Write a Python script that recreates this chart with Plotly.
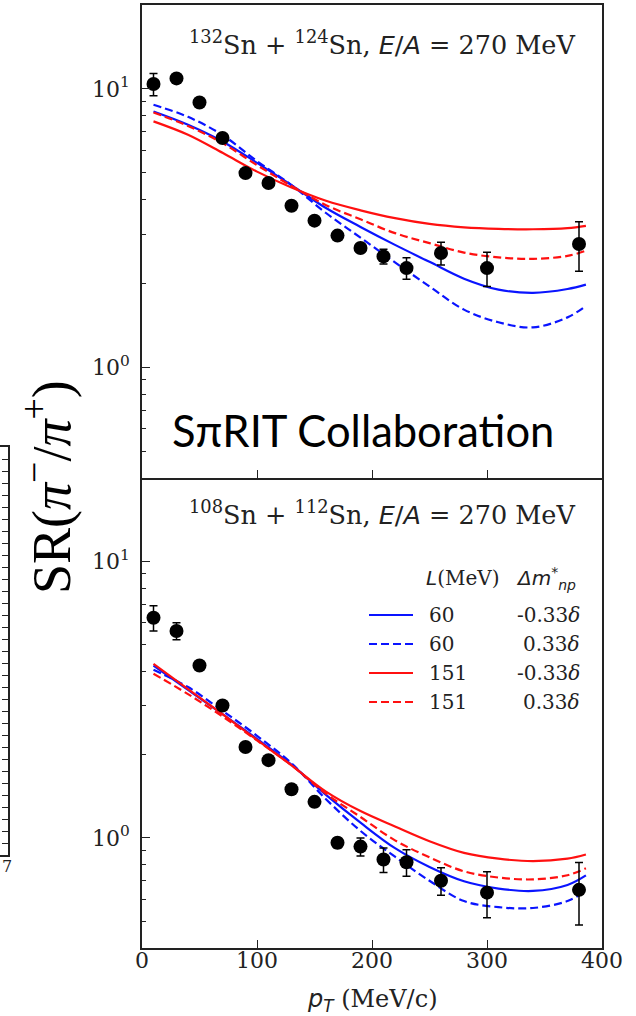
import plotly.graph_objects as go

W, H = 636, 1016

# ---------------- data ----------------
pt = [10, 30, 50, 70, 90, 110, 130, 150, 170, 190, 210, 230, 260, 300, 380]
sr_132 = [10.4, 10.9, 8.93, 6.66, 4.98, 4.59, 3.80, 3.36, 2.97, 2.68, 2.50, 2.27, 2.57, 2.27, 2.77]
err_132 = [0.95, 0.3, 0.25, 0.15, 0.1, 0.1, 0.08, 0.07, 0.07, 0.1, 0.15, 0.2, 0.24, 0.32, 0.56]
sr_108 = [6.25, 5.60, 4.20, 3.01, 2.13, 1.91, 1.50, 1.35, 0.96, 0.93, 0.835, 0.817, 0.70, 0.634, 0.649]
err_108 = [0.65, 0.4, 0.15, 0.1, 0.07, 0.06, 0.05, 0.05, 0.04, 0.07, 0.085, 0.09, 0.08, 0.12, 0.165]

model_pt = [10, 40, 70, 100, 130, 160, 190, 220, 250, 280, 310, 340, 370, 386]
# 132Sn + 124Sn
m132_L60_neg = [8.29, 7.43, 6.47, 5.42, 4.51, 3.73, 3.19, 2.75, 2.39, 2.08, 1.90, 1.85, 1.91, 1.98]
m132_L60_pos = [8.76, 7.93, 6.82, 5.50, 4.51, 3.58, 2.92, 2.38, 1.95, 1.61, 1.45, 1.39, 1.51, 1.66]
m132_L151_neg = [7.64, 6.84, 5.89, 5.04, 4.42, 3.96, 3.66, 3.43, 3.27, 3.18, 3.14, 3.13, 3.16, 3.22]
m132_L151_pos = [8.22, 7.35, 6.38, 5.32, 4.48, 3.82, 3.40, 3.03, 2.79, 2.58, 2.48, 2.45, 2.51, 2.62]
# 108Sn + 112Sn
m108_L60_neg = [4.20, 3.43, 2.80, 2.28, 1.84, 1.43, 1.135, 0.918, 0.785, 0.697, 0.656, 0.643, 0.676, 0.732]
m108_L60_pos = [4.05, 3.51, 2.88, 2.34, 1.86, 1.38, 1.06, 0.855, 0.70, 0.591, 0.562, 0.558, 0.591, 0.643]
m108_L151_neg = [4.26, 3.45, 2.80, 2.26, 1.83, 1.47, 1.25, 1.10, 0.973, 0.883, 0.841, 0.824, 0.841, 0.871]
m108_L151_pos = [3.92, 3.31, 2.75, 2.25, 1.83, 1.445, 1.19, 0.98, 0.851, 0.757, 0.719, 0.708, 0.733, 0.776]

legend_L = ["60", "60", "151", "151"]
legend_dm = ["-0.33<i>δ</i>", "0.33<i>δ</i>", "-0.33<i>δ</i>", "0.33<i>δ</i>"]
styles = [("#0a14ff", "solid"), ("#0a14ff", "8px,4px"), ("#ff1010", "solid"), ("#ff1010", "8px,4px")]

x_ticks = [0, 100, 200, 300, 400]
y_major = [1, 10]
y_major_text = ["10<sup>0</sup>", "10<sup>1</sup>"]
y_minor = [0.4, 0.5, 0.6, 0.7, 0.8, 0.9, 2, 3, 4, 5, 6, 7, 8, 9, 20]

SERIF = "DejaVu Serif"

def px(x):
    return x / W

def py(y):
    return 1 - y / H

fig = go.Figure()

panels = [
    ("x", "y", [m132_L60_neg, m132_L60_pos, m132_L151_neg, m132_L151_pos], sr_132, err_132),
    ("x2", "y2", [m108_L60_neg, m108_L60_pos, m108_L151_neg, m108_L151_pos], sr_108, err_108),
]
for xa, ya, curves, sr, err in panels:
    for c, (col, dash) in zip(curves, styles):
        fig.add_trace(go.Scatter(x=model_pt, y=c, mode="lines", xaxis=xa, yaxis=ya,
                                 line=dict(color=col, width=2.2, dash=dash, shape="spline", smoothing=1.0),
                                 showlegend=False, hoverinfo="skip"))
    fig.add_trace(go.Scatter(x=pt, y=sr, mode="markers", xaxis=xa, yaxis=ya,
                             marker=dict(color="black", size=14),
                             error_y=dict(type="data", array=err, color="black", thickness=1.5, width=4),
                             showlegend=False))

# dummy trace for the cropped neighbouring panel on the left
fig.add_trace(go.Scatter(x=[], y=[], xaxis="x3", yaxis="y3", showlegend=False))

xdom = [142 / W, 602 / W]
top_dom = [1 - 478 / H, 1 - 5 / H]
bot_dom = [1 - 948 / H, 1 - 478 / H]

def xaxis_cfg(anchor, labels, mirror):
    return dict(domain=xdom, anchor=anchor, range=[0, 400], tickvals=x_ticks, automargin=False,
                ticks="inside", ticklen=8, tickwidth=1.3, tickcolor="#222",
                showline=True, linecolor="#222", linewidth=1.5, mirror=mirror,
                showgrid=False, zeroline=False, showticklabels=labels, ticklabelstandoff=-8,
                tickfont=dict(family=SERIF, size=22, color="#222"))

def yaxis_cfg(anchor, dom):
    return dict(domain=dom, anchor=anchor, type="log", range=[-0.398, 1.301], automargin=False,
                tickvals=y_major, ticktext=y_major_text,
                ticks="inside", ticklen=8, tickwidth=1.3, tickcolor="#222",
                minor=dict(tickvals=y_minor, ticks="inside", ticklen=4.5, tickwidth=1.2, tickcolor="#222"),
                showline=True, linecolor="#222", linewidth=1.5, mirror=True,
                showgrid=False, zeroline=False, ticklabelstandoff=6,
                tickfont=dict(family=SERIF, size=22, color="#222"))

fig.update_layout(
    width=W, height=H, margin=dict(l=0, r=0, t=0, b=0, pad=0), autosize=False,
    paper_bgcolor="white", plot_bgcolor="white", showlegend=False,
    xaxis=xaxis_cfg("y", False, True), yaxis=yaxis_cfg("x", top_dom),
    xaxis2=xaxis_cfg("y2", True, False), yaxis2=yaxis_cfg("x2", bot_dom),
    xaxis3=dict(domain=[0, 8 / W], anchor="y3", range=[0, 1], showline=True, mirror=True,
                linecolor="#222", linewidth=2, ticks="", showticklabels=False, automargin=False,
                showgrid=False, zeroline=False),
    yaxis3=dict(domain=[1 - 855 / H, 1 - 447 / H], anchor="x3", side="right", range=[0, 34], dtick=1,
                ticks="inside", ticklen=6, tickwidth=1.2, tickcolor="#222", showticklabels=False,
                showline=True, mirror=True, linecolor="#222", linewidth=2, automargin=False,
                showgrid=False, zeroline=False),
)

ann = []
def A(text, x, y, size, xanchor="center", yanchor="middle", family=SERIF, angle=0, color="#222"):
    ann.append(dict(text=text, x=px(x), y=py(y), xref="paper", yref="paper", showarrow=False,
                    xanchor=xanchor, yanchor=yanchor, textangle=angle,
                    font=dict(family=family, size=size, color=color)))

EA = '<span style="font-family:DejaVu Sans"><i>E</i>/<i>A</i></span>'
A("<sup>132</sup>Sn + <sup>124</sup>Sn, " + EA + " = 270 MeV", 382, 43, 25.5)
A("<sup>108</sup>Sn + <sup>112</sup>Sn, " + EA + " = 270 MeV", 382, 513, 25.5)
A("SπRIT Collaboration", 363, 430, 43.5, family="Lato", color="black")
A('<span style="font-family:DejaVu Sans"><i>p</i><sub><i>T</i></sub></span> (MeV/c)', 372, 1000, 24)
A("SR(<i>π</i><sup>−</sup>/<i>π</i><sup>+</sup>)", 47, 487, 54, family="Liberation Serif", angle=-90, color="black")
A("7", 0, 866, 16, xanchor="left")

# legend (header, line samples, labels)
A('<span style="font-family:DejaVu Sans"><i>L</i></span>(MeV)', 424, 578, 20, xanchor="left")
A('<span style="font-family:DejaVu Sans"><i>Δm</i><sup>*</sup><sub><i>np</i></sub></span>', 578, 578, 20, xanchor="right")
row_y = [615, 644, 673, 702]
shapes = []
for (col, dash), lab, dm, yy in zip(styles, legend_L, legend_dm, row_y):
    shapes.append(dict(type="line", xref="paper", yref="paper", x0=px(369), x1=px(413),
                       y0=py(yy), y1=py(yy), line=dict(color=col, width=2.2, dash=dash)))
    A(lab, 427, yy, 20, xanchor="left")
    A(dm, 582, yy, 20, xanchor="right")

fig.update_layout(annotations=ann, shapes=shapes)
fig.write_html("out.html")
